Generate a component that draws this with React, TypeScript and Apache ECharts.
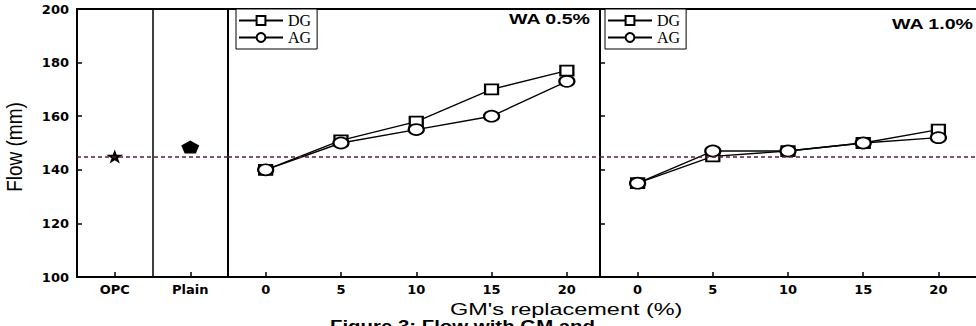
import React, { useEffect, useRef } from "react";
import * as echarts from "echarts";

const controlCategories = ["OPC", "Plain"];
const opcFlow = 145;
const plainFlow = 148.5;
const replacement = [0, 5, 10, 15, 20];
const dgWA05 = [140, 151, 158, 170, 177];
const agWA05 = [140, 150, 155, 160, 173];
const dgWA10 = [135, 145, 147, 150, 155];
const agWA10 = [135, 147, 147, 150, 152];
const referenceLine = 145;
const xTickValues = [0, 5, 10, 15, 20];
const yMin = 100;
const yMax = 200;
const yStep = 20;

const STAR = "path://M50,0 L61,35 L98,35 L68,57 L79,91 L50,70 L21,91 L32,57 L2,35 L39,35 Z";
const PENTAGON = "path://M50,0 L100,38 L81,100 L19,100 L0,38 Z";

const AX = "#000";
const labelFont = { fontFamily: "DejaVu Sans", fontWeight: "bold" as const, fontSize: 13, color: "#000" };

function markLine() {
  return {
    silent: true,
    symbol: "none",
    label: { show: false },
    lineStyle: { color: "#5c1f2c", type: [4, 3], width: 1.6 },
    data: [{ yAxis: referenceLine }],
  };
}

function lineSeries(name: string, xi: number, yi: number, xs: number[], ys: number[], symbol: string, size: number[], withMark: boolean) {
  const s: any = {
    type: "line",
    name,
    xAxisIndex: xi,
    yAxisIndex: yi,
    data: xs.map((x, i) => [x, ys[i]]),
    symbol,
    symbolSize: size,
    showAllSymbol: true,
    lineStyle: { color: "#000", width: 1.4 },
    itemStyle: { color: "#000", borderColor: "#000", borderWidth: 1.5 },
    z: 3,
  };
  if (withMark) s.markLine = markLine();
  return s;
}

function topAxis(gridIndex: number, extra: any) {
  return {
    gridIndex,
    position: "top",
    axisLine: { show: true, onZero: false, lineStyle: { color: AX, width: 2 } },
    axisTick: { show: false },
    axisLabel: { show: false },
    splitLine: { show: false },
    ...extra,
  };
}

export default function App() {
  const ref = useRef<HTMLDivElement>(null);
  useEffect(() => {
    if (!ref.current) return;
    const chart = echarts.init(ref.current, null, { renderer: "svg" });
    const valueX = (gridIndex: number, max: number) => ({
      type: "value",
      gridIndex,
      min: -2.5,
      max,
      position: "bottom",
      axisLine: { show: true, onZero: false, lineStyle: { color: AX, width: 2 } },
      axisTick: { show: true, inside: true, length: 5, customValues: xTickValues, lineStyle: { color: AX, width: 1.5 } },
      axisLabel: { show: true, customValues: xTickValues, margin: 6, ...labelFont },
      splitLine: { show: false },
    });
    const legend = (left: number) => ({
      left,
      top: 9,
      orient: "vertical",
      data: ["DG", "AG"],
      itemWidth: 44,
      itemHeight: 11,
      itemGap: 0,
      padding: [3, 6, 3, 2],
      borderColor: "#000",
      borderWidth: 1,
      backgroundColor: "#fff",
      selectedMode: false,
      textStyle: { fontFamily: "Liberation Serif", fontSize: 16, color: "#000", lineHeight: 17 },
    });
    chart.setOption({
      animation: false,
      backgroundColor: "#fff",
      grid: [
        { left: 77, top: 9, width: 151, height: 268 },
        { left: 228, top: 9, width: 372, height: 268 },
        { left: 600, top: 9, width: 382, height: 268 },
      ],
      legend: [legend(236), legend(605)],
      xAxis: [
        {
          type: "category",
          gridIndex: 0,
          data: controlCategories,
          position: "bottom",
          axisLine: { show: true, onZero: false, lineStyle: { color: AX, width: 2 } },
          axisTick: { show: true, inside: true, alignWithLabel: true, length: 5, lineStyle: { color: AX, width: 1.5 } },
          axisLabel: { show: true, margin: 6, ...labelFont },
          splitLine: { show: true, lineStyle: { color: AX, width: 1.5 } },
        },
        topAxis(0, { type: "category", data: controlCategories }),
        valueX(1, 22.2),
        topAxis(1, { type: "value", min: -2.5, max: 22.2 }),
        valueX(2, 22.5),
        topAxis(2, { type: "value", min: -2.5, max: 22.5 }),
      ],
      yAxis: [
        {
          type: "value",
          gridIndex: 0,
          min: yMin,
          max: yMax,
          interval: yStep,
          axisLine: { show: true, onZero: false, lineStyle: { color: AX, width: 2 } },
          axisTick: { show: true, inside: true, length: 5, lineStyle: { color: AX, width: 1.5 } },
          axisLabel: { show: true, margin: 8, ...labelFont },
          splitLine: { show: false },
        },
        {
          type: "value",
          gridIndex: 1,
          min: yMin,
          max: yMax,
          interval: yStep,
          axisLine: { show: true, onZero: false, lineStyle: { color: AX, width: 2 } },
          axisTick: { show: false },
          axisLabel: { show: false },
          splitLine: { show: false },
        },
        {
          type: "value",
          gridIndex: 2,
          min: yMin,
          max: yMax,
          interval: yStep,
          axisLine: { show: true, onZero: false, lineStyle: { color: AX, width: 2 } },
          axisTick: { show: true, inside: true, length: 5, lineStyle: { color: AX, width: 1.5 } },
          axisLabel: { show: false },
          splitLine: { show: false },
        },
      ],
      series: [
        {
          type: "scatter",
          name: "OPC",
          xAxisIndex: 0,
          yAxisIndex: 0,
          data: [["OPC", opcFlow]],
          symbol: STAR,
          symbolSize: [17, 14],
          itemStyle: { color: "#000", opacity: 1 },
          markLine: markLine(),
          z: 3,
        },
        {
          type: "scatter",
          name: "Plain",
          xAxisIndex: 0,
          yAxisIndex: 0,
          data: [["Plain", plainFlow]],
          symbol: PENTAGON,
          symbolSize: [18, 13],
          itemStyle: { color: "#000", opacity: 1 },
          z: 3,
        },
        lineSeries("DG", 2, 1, replacement, dgWA05, "emptyRect", [13, 10], true),
        lineSeries("AG", 2, 1, replacement, agWA05, "emptyCircle", [15, 11], false),
        lineSeries("DG", 4, 2, replacement, dgWA10, "emptyRect", [13, 10], true),
        lineSeries("AG", 4, 2, replacement, agWA10, "emptyCircle", [15, 11], false),
      ],
      graphic: [
        {
          type: "text",
          x: 590,
          y: 19,
          scaleX: 1.4,
          style: { text: "WA 0.5%", align: "right", verticalAlign: "middle", font: 'bold 14px "Liberation Sans"', fill: "#000" },
        },
        {
          type: "text",
          x: 973,
          y: 24,
          scaleX: 1.4,
          style: { text: "WA 1.0%", align: "right", verticalAlign: "middle", font: 'bold 14px "Liberation Sans"', fill: "#000" },
        },
        {
          type: "text",
          x: 14,
          y: 147,
          rotation: Math.PI / 2,
          scaleY: 1.15,
          style: { text: "Flow (mm)", align: "center", verticalAlign: "middle", font: '19px "Liberation Sans"', fill: "#000" },
        },
        {
          type: "text",
          x: 450,
          y: 309,
          scaleX: 1.38,
          style: { text: "GM's replacement (%)", align: "left", verticalAlign: "middle", font: '17px "Liberation Sans"', fill: "#000" },
        },
        {
          type: "text",
          x: 330,
          y: 318,
          scaleX: 1.2,
          style: { text: "Figure 3: Flow with GM and", align: "left", verticalAlign: "top", font: 'bold 17px "Liberation Sans"', fill: "#000" },
        },
      ],
    });
    return () => chart.dispose();
  }, []);
  return (
    <div
      ref={ref}
      style={{ position: "fixed", left: 0, top: 0, width: 976, height: 326, background: "#fff" }}
    />
  );
}
